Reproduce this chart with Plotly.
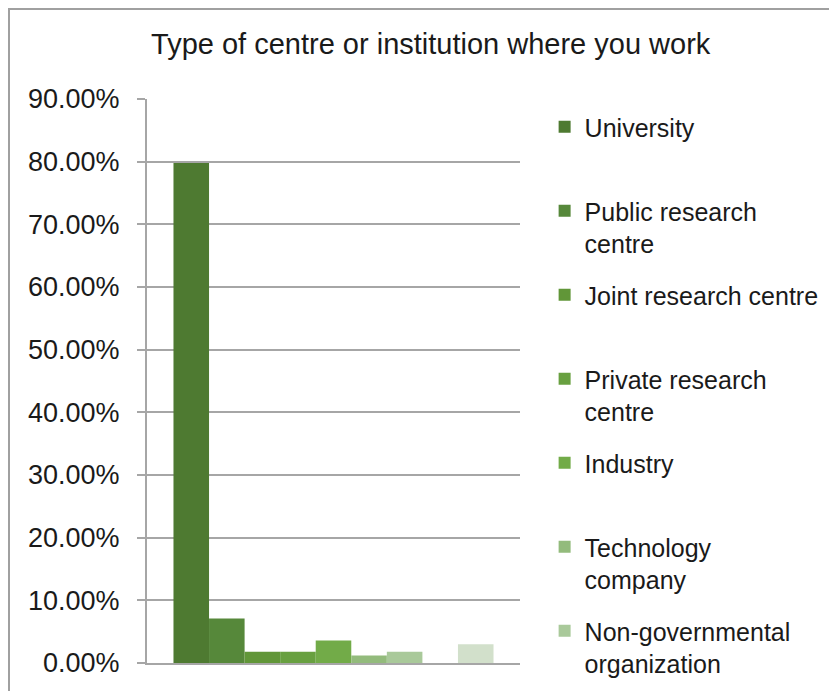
import plotly.graph_objects as go

# survey answers, share of respondents
categories = ["University", "Public research<br>centre", "Joint research centre",
              "Private research<br>centre", "Industry", "Technology<br>company",
              "Non-governmental<br>organization", "Other (1)", "Other (2)"]
shares = [0.798, 0.071, 0.018, 0.018, 0.036, 0.012, 0.018, 0.0, 0.030]
in_legend = [True, True, True, True, True, True, True, False, False]
colors = ["#4e7a31", "#56883a", "#619638", "#68a040", "#72ab48",
          "#93bb7c", "#a9c99a", "#bdd6b1", "#d2e0cb"]

y_ticks = [i / 10 for i in range(10)]

FONT = "Liberation Sans"
GRID = "#a6a6a6"

fig = go.Figure()
for i, (name, val, col, show) in enumerate(zip(categories, shares, colors, in_legend)):
    label = name if "<br>" in name else name + "<br> "
    fig.add_trace(go.Bar(
        x=["all"], y=[val], name=label, marker_color=col,
        marker_line_width=0, showlegend=show, legendgroup=f"g{i}",
    ))

# page body has an 8px margin, so pull the figure up/left by that much
fig.update_layout(
    width=837, height=691,
    margin=dict(l=139, r=325, t=91, b=36),
    paper_bgcolor="white", plot_bgcolor="white",
    barmode="group", bargap=0.142, bargroupgap=0,
    font=dict(family=FONT, size=25, color="#1a1a1a"),
    title=dict(text="Type of centre or institution where you work",
               x=0.505, xanchor="center", y=0.948, yanchor="middle",
               font=dict(size=29, family=FONT, color="#1a1a1a")),
    legend=dict(x=1.066, xanchor="left", y=0.991, yanchor="top",
                valign="top", tracegroupgap=16, itemwidth=30, maxheight=900,
                font=dict(size=25, family=FONT, color="#1a1a1a"),
                bgcolor="rgba(0,0,0,0)"),
    showlegend=True,
)
fig.update_xaxes(showticklabels=False, showgrid=False, zeroline=False,
                 showline=True, linecolor=GRID, linewidth=2, fixedrange=True)
fig.update_yaxes(range=[0, 0.9], tickvals=y_ticks, tickformat=".2%",
                 tickfont=dict(size=27),
                 showgrid=True, gridcolor=GRID, gridwidth=1.5,
                 showline=True, linecolor=GRID, linewidth=2,
                 ticks="outside", ticklen=8, tickcolor=GRID, tickwidth=1.5,
                 ticklabelstandoff=12, zeroline=False)

# outer chart frame (only left and top edges are visible in the crop)
fig.add_shape(type="rect", xref="paper", yref="paper",
              x0=-0.37, x1=2.0, y0=-0.5, y1=1.1596,
              line=dict(color="#a0a0a0", width=2), fillcolor="rgba(0,0,0,0)",
              layer="below")

fig.write_html("out.html")
